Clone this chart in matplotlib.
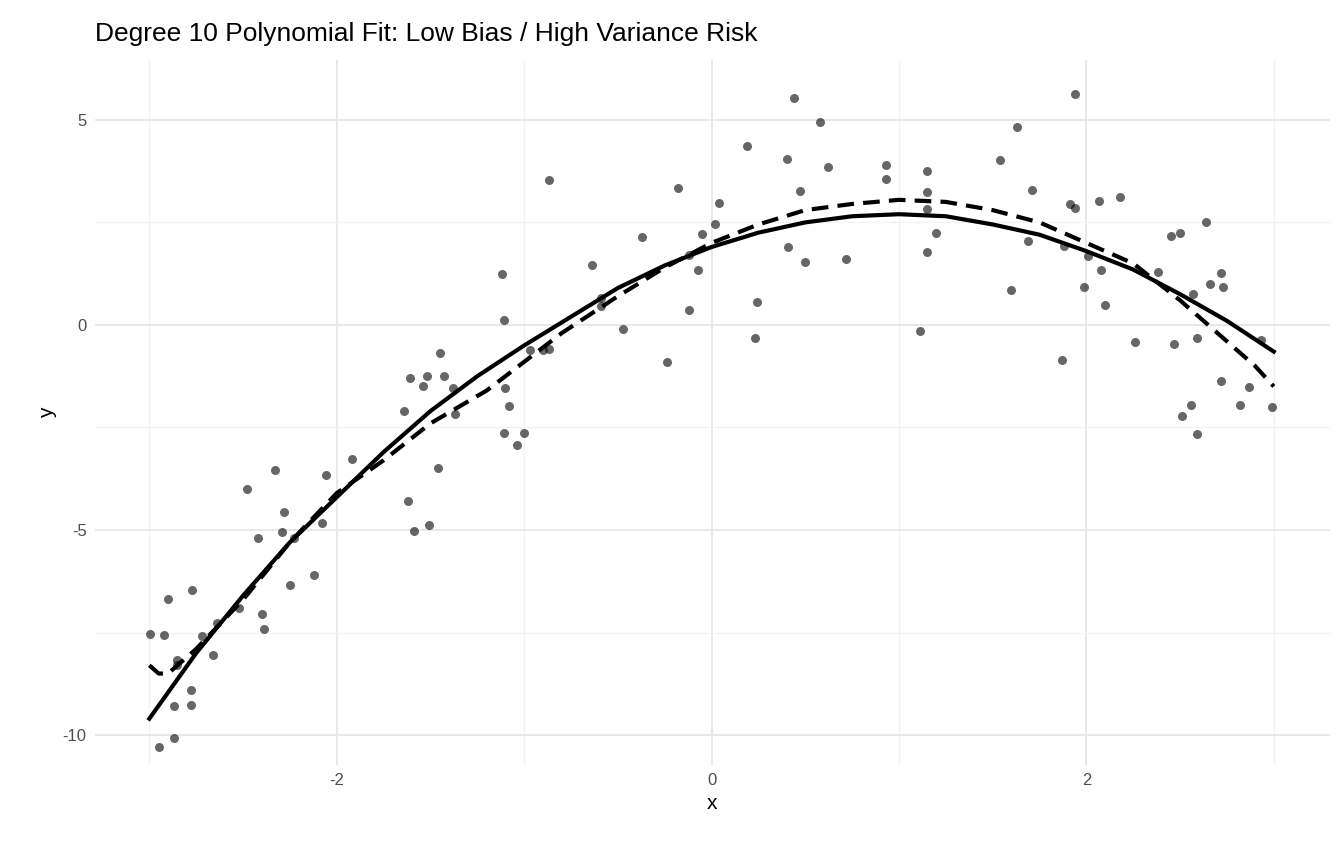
import matplotlib.pyplot as plt
from matplotlib.ticker import MultipleLocator

plt.rcParams["font.family"] = ["Liberation Sans", "DejaVu Sans"]
plt.rcParams["axes.unicode_minus"] = False

# scatter points
px = [-2.995, -2.95, -2.92, -2.90, -2.87, -2.87, -2.85, -2.85, -2.78, -2.78, -2.77, -2.72,
      -2.66, -2.64, -2.52, -2.48, -2.42, -2.40, -2.39, -2.33, -2.29, -2.28, -2.25, -2.23,
      -2.12, -2.08, -2.06, -1.92, -1.64, -1.62, -1.61, -1.59, -1.54, -1.52, -1.51, -1.46,
      -1.45, -1.43, -1.38, -1.37, -1.12, -1.11, -1.11, -1.10, -1.08, -1.04, -1.00, -0.97,
      -0.90, -0.87, -0.87, -0.64, -0.59, -0.59, -0.47, -0.37, -0.24, -0.18, -0.12, -0.12,
      -0.07, -0.05, 0.02, 0.04, 0.19, 0.23, 0.24, 0.40, 0.41, 0.44, 0.47, 0.50, 0.58, 0.62,
      0.72, 0.93, 0.93, 1.11, 1.15, 1.15, 1.15, 1.15, 1.20, 1.54, 1.60, 1.63, 1.69, 1.71,
      1.87, 1.88, 1.91, 1.94, 1.94, 1.99, 2.01, 2.07, 2.08, 2.10, 2.18, 2.26, 2.38, 2.45,
      2.47, 2.50, 2.51, 2.56, 2.57, 2.59, 2.59, 2.64, 2.66, 2.72, 2.72, 2.73, 2.82, 2.87,
      2.93, 2.99]
py = [-7.54, -10.29, -7.56, -6.68, -9.29, -10.07, -8.17, -8.29, -8.90, -9.27, -6.46, -7.59,
      -8.05, -7.27, -6.90, -4.00, -5.20, -7.05, -7.41, -3.54, -5.05, -4.56, -6.34, -5.20,
      -6.10, -4.83, -3.66, -3.27, -2.10, -4.29, -1.29, -5.02, -1.49, -1.24, -4.88, -3.49,
      -0.68, -1.24, -1.54, -2.17, 1.24, 0.12, -2.63, -1.54, -1.98, -2.93, -2.63, -0.61,
      -0.61, -0.59, 3.54, 1.46, 0.65, 0.45, -0.10, 2.15, -0.90, 3.34, 1.71, 0.37,
      1.34, 2.22, 2.46, 2.98, 4.37, -0.32, 0.56, 4.05, 1.90, 5.54, 3.27, 1.54, 4.95, 3.85,
      1.61, 3.56, 3.90, -0.15, 1.78, 3.76, 3.24, 2.83, 2.24, 4.02, 0.85, 4.83, 2.05, 3.29,
      -0.85, 1.93, 2.95, 5.63, 2.85, 0.93, 1.68, 3.02, 1.34, 0.49, 3.12, -0.41, 1.29, 2.17,
      -0.46, 2.24, -2.22, -1.95, 0.76, -0.32, -2.66, 2.51, 1.00, 1.27, -1.37, 0.93, -1.95, -1.51,
      -0.37, -2.00]

# true curve (solid) and degree-10 fit (dashed)
true_x = [-3.0, -2.75, -2.5, -2.25, -2.0, -1.75, -1.5, -1.25, -1.0, -0.75, -0.5, -0.25,
          0.0, 0.25, 0.5, 0.75, 1.0, 1.25, 1.5, 1.75, 2.0, 2.25, 2.5, 2.75, 3.0]
true_y = [-9.6, -8.0, -6.6, -5.3, -4.2, -3.1, -2.1, -1.25, -0.5, 0.2, 0.9, 1.45,
          1.9, 2.25, 2.5, 2.65, 2.7, 2.65, 2.45, 2.2, 1.8, 1.35, 0.75, 0.1, -0.65]
fit_x = [-3.0, -2.95, -2.9, -2.85, -2.75, -2.5, -2.25, -2.0, -1.75, -1.5, -1.2, -1.0,
         -0.8, -0.5, -0.25, 0.0, 0.25, 0.5, 0.75, 1.0, 1.25, 1.5, 1.75, 2.0, 2.25, 2.5,
         2.75, 2.9, 3.0]
fit_y = [-8.3, -8.5, -8.5, -8.3, -7.9, -6.7, -5.3, -4.1, -3.3, -2.4, -1.6, -0.9,
         -0.2, 0.7, 1.4, 2.0, 2.45, 2.8, 2.95, 3.05, 3.0, 2.8, 2.5, 2.0, 1.5, 0.6,
         -0.4, -1.0, -1.5]

fig = plt.figure(figsize=(13.44, 8.64), dpi=100)
ax = fig.add_axes([95 / 1344, 1 - 765 / 864, 1235 / 1344, 705 / 864])

ax.scatter(px, py, s=42, color="black", alpha=0.6, linewidths=0, zorder=3)
ax.plot(true_x, true_y, color="black", linewidth=3, zorder=4, solid_joinstyle="round")
ax.plot(fit_x, fit_y, color="black", linewidth=3, linestyle=(0, (4, 2.2)), zorder=4)

ax.set_xlim(-3.29, 3.30)
ax.set_ylim(-10.73, 6.46)
ax.xaxis.set_major_locator(MultipleLocator(2))
ax.xaxis.set_minor_locator(MultipleLocator(1))
ax.yaxis.set_major_locator(MultipleLocator(5))
ax.yaxis.set_minor_locator(MultipleLocator(2.5))
ax.grid(which="major", color="#e8e8e8", linewidth=1.4)
ax.grid(which="minor", color="#f2f2f2", linewidth=0.9)
ax.set_axisbelow(True)
for s in ax.spines.values():
    s.set_visible(False)
ax.tick_params(which="both", length=0, labelsize=12, labelcolor="#4d4d4d", pad=6)
ax.set_xlabel("x", fontsize=15)
ax.set_ylabel("y", fontsize=15)
ax.set_title("Degree 10 Polynomial Fit: Low Bias / High Variance Risk", fontsize=19,
             loc="left", x=0.0, pad=14)

fig.savefig("out.png", dpi=100)
